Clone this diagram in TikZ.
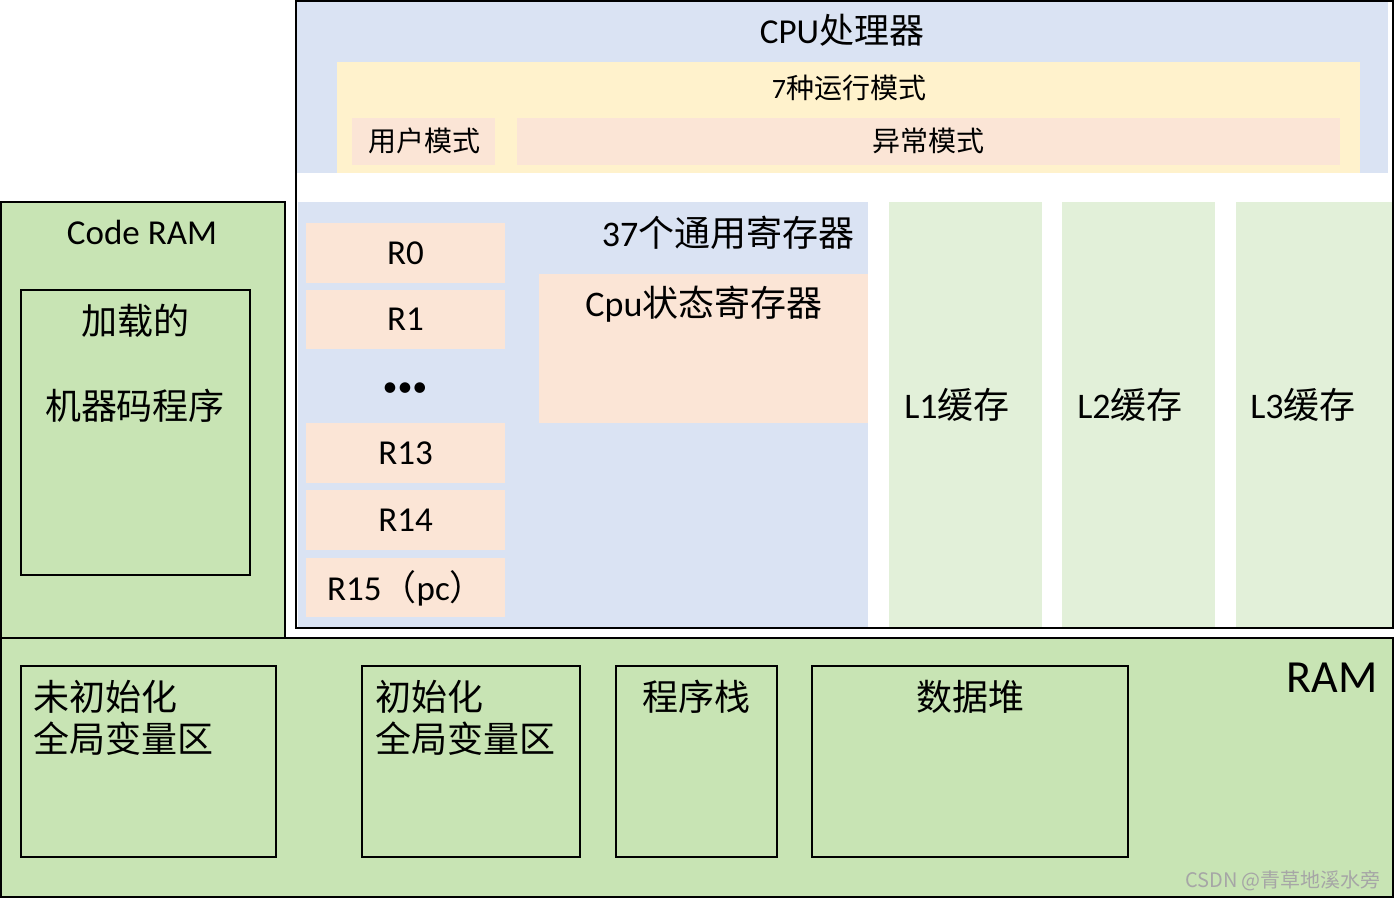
\documentclass[tikz,border=0pt]{standalone}
\usepackage{fontspec}
\setmainfont{Carlito}
\newfontfamily\zh{Noto Sans CJK SC}
\usetikzlibrary{fit}
\definecolor{cpublue}{HTML}{DAE3F3}
\definecolor{modeyel}{HTML}{FFF2CC}
\definecolor{peach}{HTML}{FBE5D6}
\definecolor{lgreen}{HTML}{E2F0D9}
\definecolor{ramgreen}{HTML}{C8E4B4}
\tikzset{
  region/.style={inner sep=0pt, outer sep=0pt, draw=none},
  frame/.style={inner sep=0pt, outer sep=0pt, draw=black, line width=2pt},
  txt/.style={inner sep=0pt, outer sep=0pt, text=black},
  fs/.style={font=\fontsize{#1}{#1}\selectfont},
}
\begin{document}
\begin{tikzpicture}[x=1pt,y=-1pt]
\useasboundingbox (0,0) rectangle (1395,900);
% CPU top region
\node[region, fill=cpublue, fit={(297,2)(1388,173)}] (cputop) {};
\node[region, fill=modeyel, fit={(337,62)(1360,173)}] (modes) {};
\node[region, fill=peach, fit={(352,118)(495,165)}] (usermode) {};
\node[region, fill=peach, fit={(517,118)(1340,165)}] (excmode) {};
% registers
\node[region, fill=cpublue, fit={(298,202)(868,627)}] (regs) {};
\node[region, fill=peach, fit={(306,223)(505,283)}] (r0) {};
\node[region, fill=peach, fit={(306,290)(505,349)}] (r1) {};
\node[region, fill=peach, fit={(306,423)(505,483)}] (r13) {};
\node[region, fill=peach, fit={(306,490)(505,550)}] (r14) {};
\node[region, fill=peach, fit={(306,558)(505,617)}] (r15) {};
\node[region, fill=peach, fit={(539,274)(868,423)}] (cpsr) {};
% caches
\node[region, fill=lgreen, fit={(889,202)(1042,627)}] (l1) {};
\node[region, fill=lgreen, fit={(1062,202)(1215,627)}] (l2) {};
\node[region, fill=lgreen, fit={(1236,202)(1393,627)}] (l3) {};
% CPU frame
\node[frame, fit={(296,1)(1393,628)}] (cpu) {};
% Code RAM
\node[frame, fill=ramgreen, fit={(1,202)(285,638)}] (coderam) {};
\node[frame, fill=ramgreen, fit={(21,290)(250,575)}] (loaded) {};
% RAM
\node[frame, fill=ramgreen, fit={(1,638)(1393,897)}] (ram) {};
\node[frame, fill=ramgreen, fit={(21,666)(276,857)}] (uninit) {};
\node[frame, fill=ramgreen, fit={(362,666)(580,857)}] (init) {};
\node[frame, fill=ramgreen, fit={(616,666)(777,857)}] (stack) {};
\node[frame, fill=ramgreen, fit={(812,666)(1128,857)}] (heap) {};

% texts
\node[txt, fs=35] (tcpu) at (842,30) {CPU{\zh 处理器}};
\node[txt, fs=28] (tmodes) at (849,88) {7{\zh 种运行模式}};
\node[txt, fs=28] (tuser) at (424,141) {\zh 用户模式};
\node[txt, fs=28] (texc) at (928,141) {\zh 异常模式};
\node[txt, fs=36] (tregs) at (728,233) {37{\zh 个通用寄存器}};
\node[txt, fs=36] (tcpsr) at (704,304) {Cpu{\zh 状态寄存器}};
\node[txt, fs=35] (tr0) at (r0.center) {R0};
\node[txt, fs=35] (tr1) at (r1.center) {R1};
\node[txt, fs=30] (tdots) at (405,390) {•••};
\node[txt, fs=35] (tr13) at (r13.center) {R13};
\node[txt, fs=35] (tr14) at (r14.center) {R14};
\node[txt, fs=35] (tr15) at (406,588) {R15{\zh （}pc{\zh ）}};
\node[txt, fs=36] (tl1) at (957,405) {L1{\zh 缓存}};
\node[txt, fs=36] (tl2) at (1130,405) {L2{\zh 缓存}};
\node[txt, fs=36] (tl3) at (1303,405) {L3{\zh 缓存}};
\node[txt, fs=35] (tcode) at (142,232) {Code RAM};
\node[txt, font=\fontsize{36}{85}\selectfont\zh, align=center] (tloaded) at (135,363.5) {加载的\\机器码程序};
\node[txt, fs=46] (tram) at (1332,678) {RAM};
\node[txt, font=\fontsize{36}{42}\selectfont\zh, align=left, anchor=west] (tuninit) at (34,718) {未初始化\\全局变量区};
\node[txt, font=\fontsize{36}{42}\selectfont\zh, align=left, anchor=west] (tinit) at (375,718) {初始化\\全局变量区};
\node[txt, fs=36] (tstack) at (696,697) {\zh 程序栈};
\node[txt, fs=36] (theap) at (970,697) {\zh 数据堆};
\node[txt, fs=20, text=black!35] (wm) at (1283,881) {\zh CSDN @青草地溪水旁};
\end{tikzpicture}
\end{document}
